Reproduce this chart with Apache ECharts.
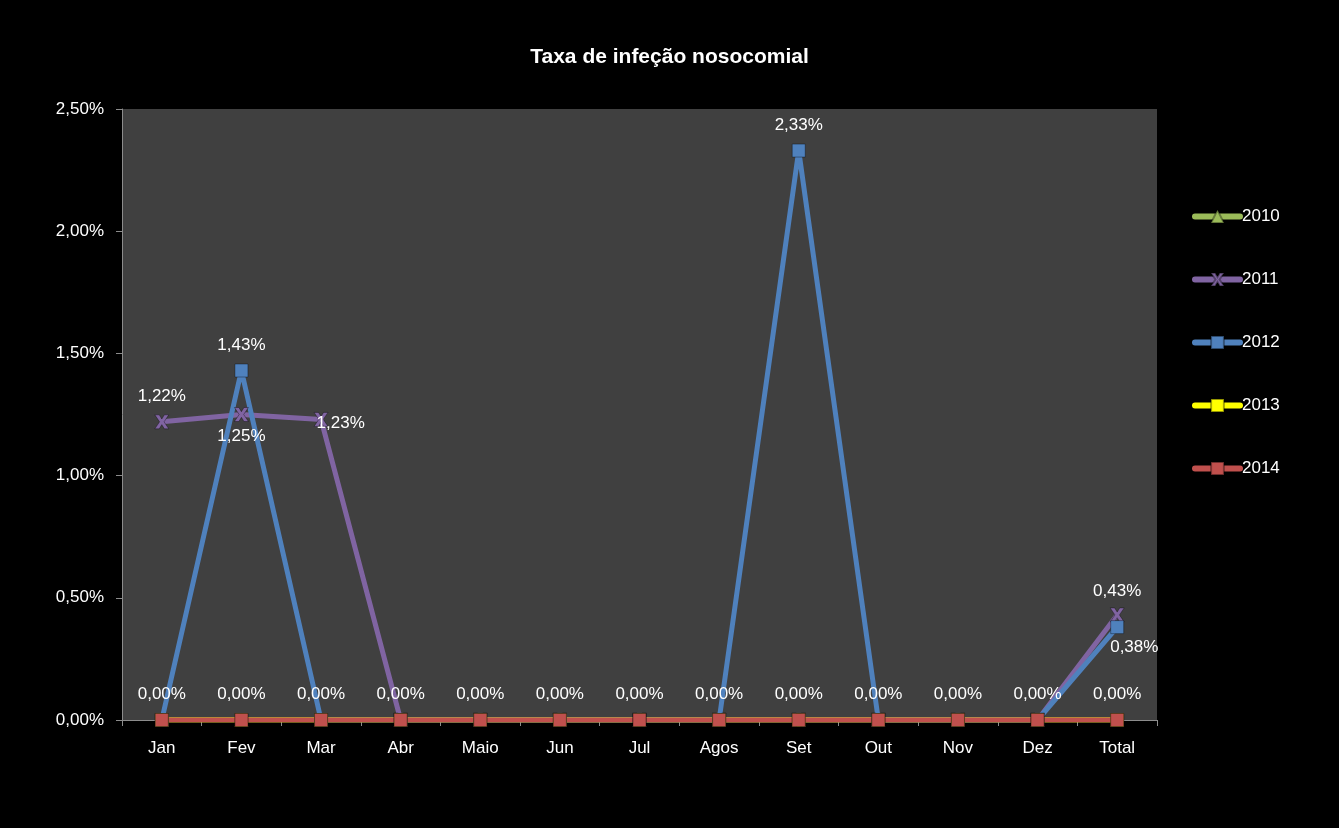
<!DOCTYPE html>
<html>
<head>
<meta charset="utf-8">
<script src="https://cdn.jsdelivr.net/npm/echarts@6/dist/echarts.min.js"></script>
<style>html,body{margin:0;padding:0;background:#000;}#c{width:1339px;height:828px;}</style>
</head>
<body>
<div id="c"></div>
<script>
var categories = ['Jan','Fev','Mar','Abr','Maio','Jun','Jul','Agos','Set','Out','Nov','Dez','Total'];
var s2010 = [0,0,0,0,0,0,0,0,0,0,0,0,0];
var s2011 = [1.22,1.25,1.23,0,0,0,0,0,0,0,0,0,0.43];
var s2012 = [0,1.43,0,0,0,0,0,0,2.33,0,0,0,0.38];
var s2013 = [0,0,0,0,0,0,0,0,0,0,0,0,0];
var s2014 = [0,0,0,0,0,0,0,0,0,0,0,0,0];
var yTicks = {min: 0, max: 2.5, interval: 0.5};

var FONT = 'Liberation Sans';
var FS = 17;
function pct(v){ return v.toFixed(2).replace('.', ',') + '%'; }

// label placement per series/index (styling, not data)
var pos2011 = {0:{position:'top',distance:10},1:{position:'bottom',distance:6},2:{position:'right',distance:-12,offset:[0,4]},12:{position:'top',distance:8}};
var pos2012 = {1:{position:'top',distance:10},8:{position:'top',distance:10},12:{position:'right',distance:-14,offset:[0,20]}};

function build(values, posMap){
  return values.map(function(v,i){
    var item = {value: v};
    if (posMap) {
      if (posMap[i]) {
        item.label = Object.assign({show:true}, posMap[i]);
      } else {
        item.label = {show:false};
      }
    }
    return item;
  });
}

var xShape = 'path://M0,0 L3.2,0 L5,3 L6.8,0 L10,0 L6.6,5 L10,10 L6.8,10 L5,7 L3.2,10 L0,10 L3.4,5 Z';

var labelStyle = {color:'#fff', fontSize:FS, fontFamily:FONT, formatter:function(p){return pct(p.value);}};

function series(name, data, color, symbol, size, posMap, showAll){
  return {
    name: name, type: 'line', data: build(data, posMap),
    symbol: symbol, symbolSize: size, showAllSymbol: true,
    lineStyle: {color: color, width: 5},
    itemStyle: {color: color, borderColor: 'rgba(0,0,0,0.35)', borderWidth: 1},
    label: Object.assign({show: !!showAll, position:'top', distance:10}, labelStyle),
    emphasis: {disabled: true},
    animation: false
  };
}

var chart = echarts.init(document.getElementById('c'));
chart.setOption({
  backgroundColor: '#000',
  title: {text: 'Taxa de infeção nosocomial', left: 'center', top: 42,
    textStyle: {color:'#fff', fontSize:21, fontWeight:'bold', fontFamily:FONT}},
  legend: {
    orient: 'vertical', left: 1192, top: 208, padding: 0, itemGap: 46, itemWidth: 45, itemHeight: 16,
    lineStyle: {width: 6, cap: 'round'},
    textStyle: {color:'#fff', fontSize:FS, fontFamily:FONT, padding:[0,0,0,-3]},
    data: ['2010','2011','2012','2013','2014']
  },
  grid: {left:122, right:182, top:109, bottom:108, show:true, backgroundColor:'#404040', borderWidth:0},
  xAxis: {
    type: 'category', data: categories, boundaryGap: true,
    axisLine: {lineStyle:{color:'#8c8c8c', width:1}},
    axisTick: {show:true, alignWithLabel:false, length:6, lineStyle:{color:'#8c8c8c'}},
    axisLabel: {color:'#fff', fontSize:FS, fontFamily:FONT, margin:20, interval:0},
    splitLine: {show:false}
  },
  yAxis: {
    type: 'value', min: yTicks.min, max: yTicks.max, interval: yTicks.interval,
    axisLine: {show:true, lineStyle:{color:'#8c8c8c', width:1}},
    axisTick: {show:true, length:6, lineStyle:{color:'#8c8c8c'}},
    axisLabel: {color:'#fff', fontSize:FS, fontFamily:FONT, margin:18, formatter:function(v){return pct(v);}},
    splitLine: {show:false}
  },
  series: [
    series('2010', s2010, '#9BBB59', 'triangle', 14, null, false),
    series('2011', s2011, '#8064A2', xShape, 14, pos2011, false),
    series('2012', s2012, '#4F81BD', 'rect', 13, pos2012, false),
    series('2013', s2013, '#FFFF00', 'rect', 13, null, false),
    series('2014', s2014, '#C0504D', 'rect', 13, null, true)
  ]
});
</script>
</body>
</html>
